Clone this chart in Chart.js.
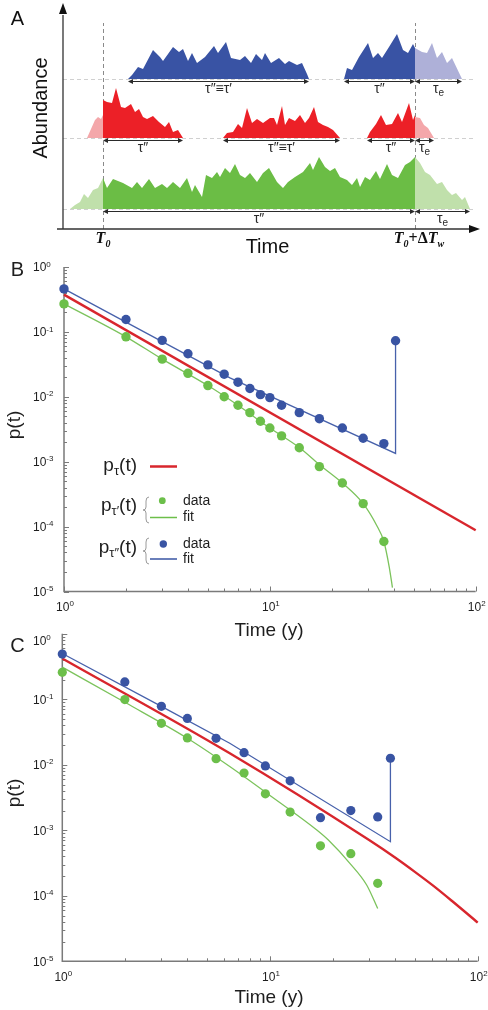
<!DOCTYPE html>
<html>
<head>
<meta charset="utf-8">
<script src="https://cdn.jsdelivr.net/npm/chart.js@4.4.1/dist/chart.umd.min.js"></script>
<style>
    body { margin: 0; background: #fff; }
    #wrap { position: relative; width: 488px; height: 1010px; }
    canvas { position: absolute; left: 0; }
</style>
</head>
<body>
<div id="wrap">
    <canvas id="panelA" width="488" height="260" style="top:0px"></canvas>
    <canvas id="panelB" width="488" height="390" style="top:250px"></canvas>
    <canvas id="panelC" width="488" height="395" style="top:615px"></canvas>
</div>
<script>
(() => {
    "use strict";

    // ---- Panel A: schematic abundance profiles, [time, abundance] ----
    const t0 = 40;          // T0
    const t1 = 352;         // T0 + dTw
    const blueBase = 150;
    const redBase = 91;
    const greenBase = 20;

    const blueRun1 = [[65,150],[69,154],[75,162],[80,160],[90,179],[97,172],[100,168],[110,182],[116,177],[120,180],[125,168],[129,176],[134,166],[142,172],[151,183],[155,176],[163,187],[168,171],[177,169],[182,173],[188,166],[193,175],[199,169],[202,176],[208,166],[216,171],[222,165],[226,168],[234,164],[239,166],[244,155],[246,150]];
    const blueRun2 = [[281,150],[284,161],[289,159],[296,172],[305,186],[310,171],[315,176],[319,171],[326,182],[334,195],[340,179],[345,176],[350,185],[352,181]];
    const blueTail = [[352,181],[359,177],[364,176],[369,186],[374,171],[379,177],[384,166],[389,171],[399,150]];

    const redHead = [[24,91],[32,109],[35,112],[38,110],[40,114]];
    const redRun1 = [[40,129],[44,127],[49,126],[53,141],[58,122],[62,121],[68,125],[72,117],[76,120],[80,112],[84,110],[90,113],[96,107],[102,102],[106,107],[110,97],[115,99],[120,91]];
    const redRun2 = [[160,91],[164,96],[170,97],[175,105],[179,101],[184,121],[189,106],[194,110],[200,106],[207,111],[211,111],[214,104],[219,123],[222,104],[226,111],[232,108],[237,114],[242,106],[246,111],[251,122],[255,107],[260,104],[265,102],[270,99],[277,91]];
    const redRun3 = [[304,91],[307,97],[313,105],[318,114],[323,104],[329,105],[335,116],[339,107],[346,126],[350,109],[352,114]];
    const redTail = [[352,112],[357,111],[361,104],[365,101],[371,91]];

    const greenHead = [[7,20],[12,24],[17,27],[21,35],[25,31],[30,39],[35,41],[40,51]];
    const greenRun = [[40,51],[44,41],[50,50],[60,46],[69,41],[74,47],[79,41],[86,50],[92,41],[99,45],[104,41],[110,47],[117,41],[124,51],[129,37],[132,44],[139,32],[143,54],[149,51],[154,57],[157,52],[162,61],[167,56],[172,65],[177,54],[182,51],[187,56],[194,47],[200,56],[206,61],[210,54],[214,47],[220,41],[225,47],[232,52],[240,57],[247,66],[250,59],[256,72],[262,62],[267,58],[272,61],[277,52],[284,49],[289,44],[294,51],[297,42],[302,52],[307,49],[313,58],[317,50],[324,65],[329,54],[335,51],[342,64],[347,67],[352,72]];
    const greenTail = [[352,72],[357,66],[362,57],[367,54],[374,45],[379,47],[384,39],[389,34],[393,36],[399,29],[402,32],[407,20]];

    // interval arrows: [from, to, baseline, label, subscript]
    const intervals = [
        [65, 246, blueBase, "τ″≡τ′", ""],
        [281, 352, blueBase, "τ″", ""],
        [352, 399, blueBase, "τ", "e"],
        [40, 120, redBase, "τ″", ""],
        [160, 277, redBase, "τ″≡τ′", ""],
        [304, 352, redBase, "τ″", ""],
        [352, 371, redBase, "τ", "e"],
        [40, 352, greenBase, "τ″", ""],
        [352, 407, greenBase, "τ", "e"]
    ];

    // ---- Panel B: time (y) and p(t) ----
    const timesB = [1, 2, 3, 4, 5, 6, 7, 8, 9, 10, 11.4, 13.9, 17.4, 22.5, 28.4, 35.8];
    const greenPointsB = [0.27, 0.084, 0.038, 0.023, 0.0149, 0.0100, 0.0074, 0.0057, 0.0042, 0.0033, 0.0025, 0.00164, 0.00084, 0.00047, 0.000226, 0.000059];
    const blueTimesB = [1, 2, 3, 4, 5, 6, 7, 8, 9, 10, 11.4, 13.9, 17.4, 22.5, 28.4, 35.8, 40.8];
    const bluePointsB = [0.46, 0.155, 0.074, 0.046, 0.031, 0.0223, 0.0168, 0.0134, 0.0108, 0.0097, 0.0074, 0.0057, 0.0046, 0.0033, 0.0023, 0.0019, 0.073];
    const redFitB_t = [1, 100];
    const redFitB_p = [0.375, 0.000088];
    const greenFitB_t = [1, 2, 3, 5, 7, 10, 13.9, 17.4, 22.5, 28.4, 33, 35.8, 38, 39.4];
    const greenFitB_p = [0.27, 0.084, 0.038, 0.0149, 0.0074, 0.0033, 0.00165, 0.00090, 0.00047, 0.000226, 0.000105, 0.000059, 0.000024, 0.0000115];
    const blueFitB_t = [1, 3, 6.4, 40.8, 40.8];
    const blueFitB_p = [0.46, 0.071, 0.0196, 0.00134, 0.073];

    // ---- Panel C ----
    const greenTimesC = [1, 2, 3, 4, 5.5, 7.5, 9.5, 12.5, 17.5, 24.5, 33];
    const greenPointsC = [0.258, 0.099, 0.043, 0.0257, 0.0124, 0.0075, 0.0036, 0.0019, 0.00058, 0.00044, 0.000155];
    const blueTimesC = [1, 2, 3, 4, 5.5, 7.5, 9.5, 12.5, 17.5, 24.5, 33, 38];
    const bluePointsC = [0.49, 0.184, 0.078, 0.051, 0.0254, 0.0153, 0.0096, 0.0057, 0.00156, 0.0020, 0.0016, 0.0126];
    const redFitC_t = [1, 6.4, 30, 40, 50, 61, 75, 100];
    const redFitC_p = [0.42, 0.015, 0.00071, 0.000384, 0.00023, 0.000143, 0.000084, 0.000039];
    const greenFitC_t = [1, 2, 4, 6.4, 10, 16.8, 19.1, 24.3, 29.2, 33];
    const greenFitC_p = [0.31, 0.09, 0.0254, 0.0094, 0.0034, 0.00101, 0.00071, 0.00031, 0.000146, 0.000064];
    const blueFitC_t = [1, 3, 6.4, 38, 38];
    const blueFitC_p = [0.5, 0.078, 0.0213, 0.00067, 0.0126];

    const xDecades = [0, 1, 2];
    const yDecades = [0, -1, -2, -3, -4, -5];

    const SANS = '"Liberation Sans", Arial, sans-serif';
    const SERIF = '"Liberation Serif", "Times New Roman", serif';
    const BLUE = "#3954a3";
    const RED = "#d8262d";
    const GREEN = "#6cbf4a";

    const pairs = (list) => list.map(([x, y]) => ({ x, y }));
    const zip = (xs, ys) => xs.map((x, i) => ({ x, y: ys[i] }));

    // draw text made of several runs (sub/superscripts)
    function runs(ctx, parts, x, y, align) {
        let total = 0;
        parts.forEach(p => { ctx.font = p.font; p.w = ctx.measureText(p.text).width; total += p.w; });
        let cx = align === "right" ? x - total : align === "center" ? x - total / 2 : x;
        ctx.textAlign = "left";
        ctx.textBaseline = "alphabetic";
        parts.forEach(p => { ctx.font = p.font; ctx.fillText(p.text, cx, y + (p.dy || 0)); cx += p.w; });
    }

    function arrowHead(ctx, x, y, dir) {
        ctx.beginPath();
        ctx.moveTo(x, y);
        ctx.lineTo(x - dir * 5, y - 2.5);
        ctx.lineTo(x - dir * 5, y + 2.5);
        ctx.closePath();
        ctx.fill();
    }

    // ---------------- Panel A ----------------
    const schematic = {
        id: "schematic",
        beforeDatasetsDraw(chart) {
            const { ctx, scales: { x, y } } = chart;
            ctx.save();
            ctx.lineWidth = 1;
            ctx.setLineDash([4, 3]);
            ctx.strokeStyle = "#d0d0d0";
            [blueBase, redBase, greenBase].forEach(b => {
                ctx.beginPath();
                ctx.moveTo(x.getPixelForValue(0), y.getPixelForValue(b) + 0.5);
                ctx.lineTo(x.getPixelForValue(412), y.getPixelForValue(b) + 0.5);
                ctx.stroke();
            });
            ctx.strokeStyle = "#8a8a8a";
            [t0, t1].forEach(t => {
                ctx.beginPath();
                ctx.moveTo(x.getPixelForValue(t) + 0.5, y.getPixelForValue(0));
                ctx.lineTo(x.getPixelForValue(t) + 0.5, y.getPixelForValue(206));
                ctx.stroke();
            });
            ctx.restore();
        },
        afterDatasetsDraw(chart) {
            const { ctx, scales: { x, y } } = chart;
            ctx.save();
            // axes with arrows
            const ox = x.getPixelForValue(0), oy = y.getPixelForValue(0);
            ctx.strokeStyle = "#333";
            ctx.fillStyle = "#111";
            ctx.lineWidth = 1.3;
            ctx.beginPath();
            ctx.moveTo(ox, oy);
            ctx.lineTo(ox, y.getPixelForValue(214));
            ctx.moveTo(x.getPixelForValue(-6), oy);
            ctx.lineTo(x.getPixelForValue(408), oy);
            ctx.stroke();
            const topY = y.getPixelForValue(226);
            ctx.beginPath();
            ctx.moveTo(ox, topY);
            ctx.lineTo(ox - 4, topY + 11);
            ctx.lineTo(ox + 4, topY + 11);
            ctx.closePath();
            ctx.fill();
            const tipX = x.getPixelForValue(417);
            ctx.beginPath();
            ctx.moveTo(tipX, oy);
            ctx.lineTo(tipX - 11, oy - 4);
            ctx.lineTo(tipX - 11, oy + 4);
            ctx.closePath();
            ctx.fill();

            // interval arrows
            ctx.strokeStyle = "#2a2a2a";
            ctx.fillStyle = "#2a2a2a";
            ctx.lineWidth = 1;
            intervals.forEach(([a, b, base, label, sub]) => {
                const xa = x.getPixelForValue(a), xb = x.getPixelForValue(b);
                const yy = y.getPixelForValue(base) + 2.5;
                ctx.beginPath();
                ctx.moveTo(xa + 2, yy);
                ctx.lineTo(xb - 2, yy);
                ctx.stroke();
                arrowHead(ctx, xa, yy, -1);
                arrowHead(ctx, xb, yy, 1);
                const parts = [{ text: label, font: "14px " + SANS }];
                if (sub) parts.push({ text: sub, font: "10px " + SANS, dy: 3 });
                runs(ctx, parts, (xa + xb) / 2, yy + 11.5, "center");
            });

            // texts
            ctx.fillStyle = "#111";
            ctx.font = "20px " + SANS;
            ctx.textAlign = "center";
            ctx.textBaseline = "middle";
            ctx.fillText("A", 17.5, 19);
            ctx.fillText("Time", 267.5, 247);
            ctx.save();
            ctx.translate(41.5, 108);
            ctx.rotate(-Math.PI / 2);
            ctx.fillText("Abundance", 0, 0);
            ctx.restore();

            const bi = "bold italic ";
            runs(ctx, [
                { text: "T", font: bi + "16px " + SERIF },
                { text: "0", font: bi + "10px " + SERIF, dy: 4 }
            ], x.getPixelForValue(t0), 243, "center");
            runs(ctx, [
                { text: "T", font: bi + "16px " + SERIF },
                { text: "0", font: bi + "10px " + SERIF, dy: 4 },
                { text: "+Δ", font: "bold 16px " + SERIF },
                { text: "T", font: bi + "16px " + SERIF },
                { text: "w", font: bi + "10px " + SERIF, dy: 4 }
            ], x.getPixelForValue(t1) + 4, 243, "center");
            ctx.restore();
        }
    };

    const area = (list, color, base) => ({
        data: pairs(list),
        backgroundColor: color,
        borderColor: "rgba(0,0,0,0)",
        borderWidth: 0,
        pointRadius: 0,
        tension: 0,
        fill: { value: base },
        clip: false
    });

    new Chart(document.getElementById("panelA"), {
        type: "line",
        data: {
            datasets: [
                area(blueRun1, "#3953a4", blueBase),
                area(blueRun2, "#3953a4", blueBase),
                area(blueTail, "#aeb0d8", blueBase),
                area(redHead, "#f4a7aa", redBase),
                area(redRun1, "#ec2027", redBase),
                area(redRun2, "#ec2027", redBase),
                area(redRun3, "#ec2027", redBase),
                area(redTail, "#f4a7aa", redBase),
                area(greenHead, "#c0e0ab", greenBase),
                area(greenRun, "#6bbd45", greenBase),
                area(greenTail, "#c0e0ab", greenBase)
            ]
        },
        options: {
            responsive: false,
            animation: false,
            events: [],
            layout: { padding: { left: 63, right: 5, top: 3, bottom: 31 } },
            plugins: { legend: { display: false }, tooltip: { enabled: false } },
            scales: {
                x: { type: "linear", min: 0, max: 420, display: false },
                y: { type: "linear", min: 0, max: 226, display: false }
            }
        },
        plugins: [schematic]
    });

    // ---------------- Panels B and C ----------------
    function powLabel(exp) {
        return [
            { text: "10", font: "12px " + SANS },
            { text: String(exp), font: "8px " + SANS, dy: -4.7 }
        ];
    }

    function logAxes(cfg) {
        return {
            id: "logAxes" + cfg.tag,
            beforeDatasetsDraw(chart) {
                const { ctx, chartArea: a, scales: { x, y } } = chart;
                ctx.save();
                ctx.strokeStyle = "#7a7a7a";
                ctx.lineWidth = 1.5;
                ctx.beginPath();
                ctx.moveTo(a.left, a.top);
                ctx.lineTo(a.left, a.bottom);
                ctx.lineTo(a.right, a.bottom);
                ctx.stroke();
                ctx.lineWidth = 1;
                ctx.beginPath();
                for (let e = 0; e <= 2; e++) {
                    for (let m = 1; m <= 9; m++) {
                        const v = m * Math.pow(10, e);
                        if (v > 100) break;
                        const px = Math.round(x.getPixelForValue(v)) + 0.5;
                        ctx.moveTo(px, a.bottom);
                        ctx.lineTo(px, a.bottom - (m === 1 ? 5 : 3));
                    }
                }
                for (let e = -5; e <= 0; e++) {
                    for (let m = 1; m <= 9; m++) {
                        const v = m * Math.pow(10, e);
                        if (v > 1) break;
                        const py = Math.round(y.getPixelForValue(v)) + 0.5;
                        ctx.moveTo(a.left, py);
                        ctx.lineTo(a.left + (m === 1 ? 5 : 3), py);
                    }
                }
                ctx.stroke();
                ctx.restore();
            },
            afterDatasetsDraw(chart) {
                const { ctx, chartArea: a, scales: { x, y } } = chart;
                ctx.save();
                ctx.fillStyle = "#1e1e1e";
                xDecades.forEach(e => {
                    runs(ctx, powLabel(e), x.getPixelForValue(Math.pow(10, e)) + 1, a.bottom + 19.5, "center");
                });
                yDecades.forEach(e => {
                    const shift = e === 0 ? cfg.topShift : 0;
                    runs(ctx, powLabel(e), 33, y.getPixelForValue(Math.pow(10, e)) + 4.3 + shift, "left");
                });
                ctx.font = "20px " + SANS;
                ctx.textAlign = "center";
                ctx.textBaseline = "middle";
                ctx.fillText(cfg.tag, 17.5, cfg.tagY);
                ctx.font = "19px " + SANS;
                ctx.fillText("Time (y)", 269, cfg.timeY);
                ctx.save();
                ctx.translate(15, cfg.pY);
                ctx.rotate(-Math.PI / 2);
                ctx.fillText("p(t)", 0, 0);
                ctx.restore();
                if (cfg.legend) drawLegend(ctx);
                ctx.restore();
            }
        };
    }

    function brace(ctx, bx, y0, y1) {
        const mid = (y0 + y1) / 2;
        ctx.beginPath();
        ctx.moveTo(bx + 3, y0);
        ctx.quadraticCurveTo(bx, y0, bx, y0 + 4);
        ctx.lineTo(bx, mid - 3);
        ctx.quadraticCurveTo(bx, mid, bx - 3, mid);
        ctx.quadraticCurveTo(bx, mid, bx, mid + 3);
        ctx.lineTo(bx, y1 - 4);
        ctx.quadraticCurveTo(bx, y1, bx + 3, y1);
        ctx.stroke();
    }

    function drawLegend(ctx) {
        const big = "19px " + SANS, sub = "13px " + SANS, small = "14px " + SANS;
        ctx.fillStyle = "#1e1e1e";
        runs(ctx, [{ text: "p", font: big }, { text: "τ", font: sub, dy: 4 }, { text: "(t)", font: big }], 137, 221, "right");
        runs(ctx, [{ text: "p", font: big }, { text: "τ′", font: sub, dy: 4 }, { text: "(t)", font: big }], 137, 261, "right");
        runs(ctx, [{ text: "p", font: big }, { text: "τ″", font: sub, dy: 4 }, { text: "(t)", font: big }], 137, 303, "right");

        ctx.strokeStyle = "#9a9a9a";
        ctx.lineWidth = 1;
        brace(ctx, 146, 247, 273);
        brace(ctx, 146, 288, 314);

        ctx.lineWidth = 2.5;
        ctx.strokeStyle = RED;
        ctx.beginPath(); ctx.moveTo(150, 216.5); ctx.lineTo(177, 216.5); ctx.stroke();
        ctx.lineWidth = 1.5;
        ctx.strokeStyle = GREEN;
        ctx.beginPath(); ctx.moveTo(150, 267.5); ctx.lineTo(177, 267.5); ctx.stroke();
        ctx.strokeStyle = BLUE;
        ctx.beginPath(); ctx.moveTo(150, 309); ctx.lineTo(177, 309); ctx.stroke();

        ctx.fillStyle = GREEN;
        ctx.beginPath(); ctx.arc(162.3, 250.7, 3.4, 0, Math.PI * 2); ctx.fill();
        ctx.fillStyle = BLUE;
        ctx.beginPath(); ctx.arc(163.3, 294, 3.7, 0, Math.PI * 2); ctx.fill();

        ctx.fillStyle = "#1e1e1e";
        ctx.font = small;
        ctx.textAlign = "left";
        ctx.textBaseline = "middle";
        ctx.fillText("data", 183, 250.7);
        ctx.fillText("fit", 183, 267.5);
        ctx.fillText("data", 183, 294);
        ctx.fillText("fit", 183, 309);
    }

    const dots = (xs, ys, color, r) => ({
        data: zip(xs, ys),
        showLine: false,
        pointRadius: r,
        pointBackgroundColor: color,
        pointBorderColor: color,
        pointBorderWidth: 0,
        clip: false
    });
    const curve = (xs, ys, color, w, smooth) => ({
        data: zip(xs, ys),
        borderColor: color,
        borderWidth: w,
        pointRadius: 0,
        fill: false,
        tension: 0,
        cubicInterpolationMode: smooth ? "monotone" : "default",
        clip: false
    });

    function logChart(id, pad, datasets, cfg) {
        return new Chart(document.getElementById(id), {
            type: "line",
            data: { datasets },
            options: {
                responsive: false,
                animation: false,
                events: [],
                layout: { padding: pad },
                plugins: { legend: { display: false }, tooltip: { enabled: false } },
                scales: {
                    x: { type: "logarithmic", min: 1, max: 100, display: false },
                    y: { type: "logarithmic", min: 0.00001, max: 1, display: false }
                }
            },
            plugins: [logAxes(cfg)]
        });
    }

    logChart("panelB", { left: 64, right: 12.3, top: 17, bottom: 48.5 }, [
        dots(blueTimesB, bluePointsB, BLUE, 4.7),
        dots(timesB, greenPointsB, GREEN, 4.7),
        curve(blueFitB_t, blueFitB_p, "#4761ab", 1.3, false),
        curve(greenFitB_t, greenFitB_p, "#7cc35c", 1.3, true),
        curve(redFitB_t, redFitB_p, RED, 2.4, false)
    ], { tag: "B", tagY: 20, timeY: 381, pY: 175, topShift: 0, legend: true });

    logChart("panelC", { left: 62.3, right: 10.3, top: 18.8, bottom: 48.7 }, [
        dots(blueTimesC, bluePointsC, BLUE, 4.6),
        dots(greenTimesC, greenPointsC, GREEN, 4.6),
        curve(blueFitC_t, blueFitC_p, "#4761ab", 1.3, false),
        curve(greenFitC_t, greenFitC_p, "#7cc35c", 1.3, true),
        curve(redFitC_t, redFitC_p, RED, 2.4, true)
    ], { tag: "C", tagY: 31, timeY: 383, pY: 178, topShift: 7, legend: false });
})();
</script>
</body>
</html>
